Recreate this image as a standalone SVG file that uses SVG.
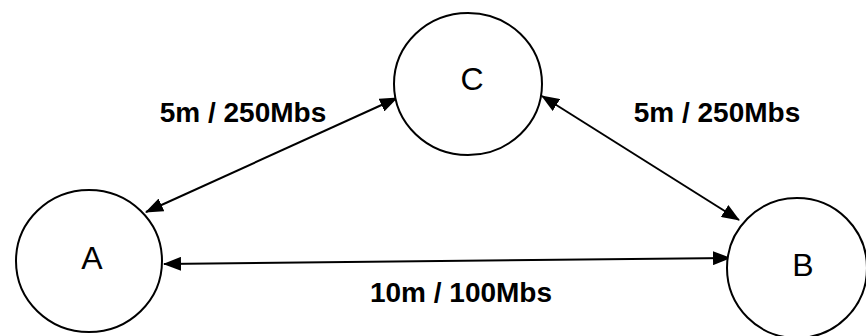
<svg xmlns="http://www.w3.org/2000/svg" width="866" height="336" viewBox="0 0 866 336">
<style>
.node{fill:#fff;stroke:#000;stroke-width:2}
.nl{font-family:"Liberation Sans",Arial,sans-serif;font-size:32px;fill:#000;text-anchor:middle}
.el{font-family:"Liberation Sans",Arial,sans-serif;font-size:28px;font-weight:bold;fill:#000;text-anchor:middle}
.edge{stroke:#000;stroke-width:2;fill:none;marker-start:url(#ah);marker-end:url(#ah)}
</style>
<defs>
<marker id="ah" viewBox="0 0 18 14" refX="17" refY="7" markerWidth="18" markerHeight="14" markerUnits="userSpaceOnUse" orient="auto-start-reverse">
<path d="M0,0 L18,7 L0,14 z" fill="#000"/>
</marker>
</defs>
<g id="edges">
<line class="edge" x1="146" y1="212" x2="397" y2="98"/>
<line class="edge" x1="542" y1="96" x2="739" y2="220"/>
<line class="edge" x1="164" y1="264" x2="730" y2="258"/>
</g>
<g id="node-C">
<ellipse class="node" cx="468" cy="84" rx="74" ry="71"/>
<text class="nl" x="472" y="90">C</text>
</g>
<g id="node-A">
<ellipse class="node" cx="89" cy="261" rx="73" ry="71"/>
<text class="nl" x="92" y="269">A</text>
</g>
<g id="node-B">
<ellipse class="node" cx="797" cy="268" rx="70" ry="70"/>
<text class="nl" x="803" y="276">B</text>
</g>
<g id="labels">
<text class="el" x="243" y="122">5m / 250Mbs</text>
<text class="el" x="717" y="122">5m / 250Mbs</text>
<text class="el" x="461" y="302">10m / 100Mbs</text>
</g>
</svg>
